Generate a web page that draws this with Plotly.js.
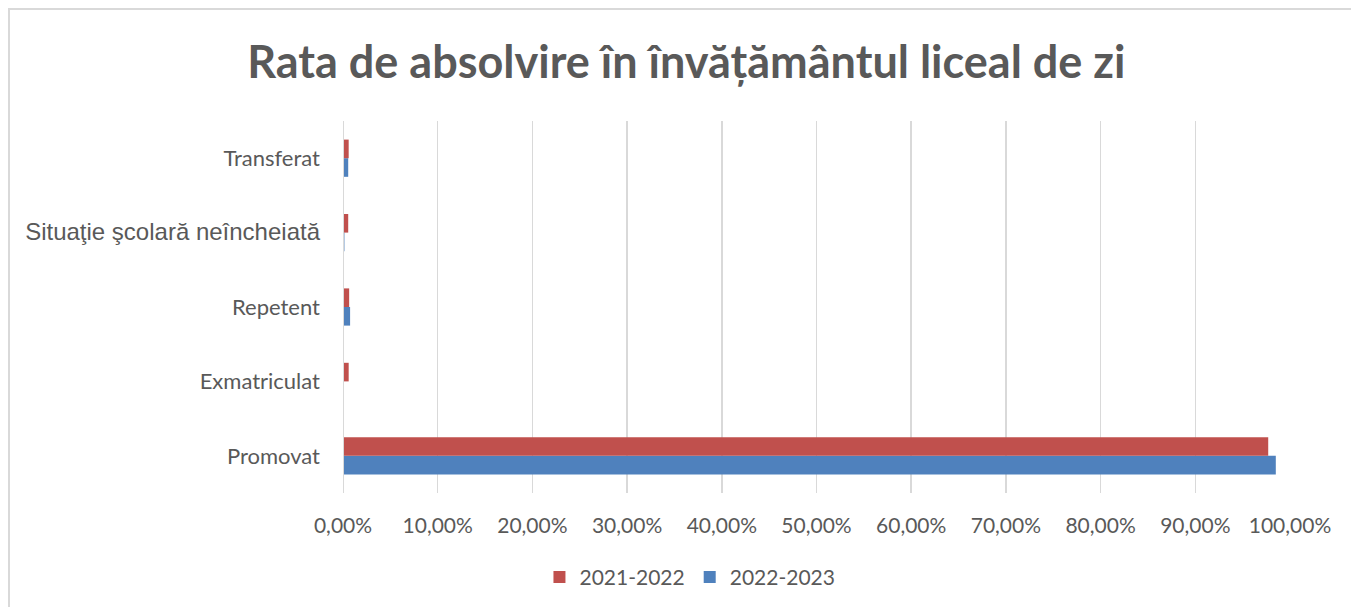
<!DOCTYPE html>
<html>
<head>
<meta charset="utf-8">
<script src="https://cdn.plot.ly/plotly-3.0.1.min.js"></script>
<style>
html,body{margin:0;padding:0;background:#fff;}
#wrap{position:relative;width:1351px;height:607px;overflow:hidden;}
#chart{position:absolute;left:0;top:0;width:1351px;height:607px;}
#frame{position:absolute;left:8px;top:8px;width:1400px;height:700px;border-left:2px solid #d9d9d9;border-top:2px solid #d9d9d9;pointer-events:none;}
</style>
</head>
<body>
<div id="wrap">
<div id="chart"></div>
<div id="frame"></div>
</div>
<script>
const categories = ['Promovat', 'Exmatriculat', 'Repetent', 'Situaţie şcolară neîncheiată', 'Transferat'];
const tickLabels = ['Promovat', 'Exmatriculat', 'Repetent', '<span style="font-family:\'Liberation Sans\', Arial, sans-serif;font-size:24px">Situaţie şcolară neîncheiată</span>', 'Transferat'];
const series2021 = [0.977, 0.006, 0.0065, 0.0055, 0.006];
const series2022 = [0.985, 0.0005, 0.0075, 0.0015, 0.0055];
const xTicks = [0, 0.1, 0.2, 0.3, 0.4, 0.5, 0.6, 0.7, 0.8, 0.9, 1.0];

const traces = [
  {type:'bar', orientation:'h', name:'2022-2023', y:categories, x:series2022,
   marker:{color:'#4F81BD'}, hoverinfo:'x+y'},
  {type:'bar', orientation:'h', name:'2021-2022', y:categories, x:series2021,
   marker:{color:'#C0504D'}, hoverinfo:'x+y'}
];

const font = "Lato, 'Open Sans', sans-serif";
const layout = {
  width:1351, height:607,
  margin:{l:343, r:61, t:121, b:114, pad:0, autoexpand:false},
  paper_bgcolor:'#fff', plot_bgcolor:'#fff',
  separators:',.',
  barmode:'group', bargap:0.5, bargroupgap:0,
  title:{text:'<b>Rata de absolvire în învățământul liceal de zi</b>', x:0.508, xanchor:'center',
         yref:'container', y:0.898, yanchor:'middle',
         font:{family:font, size:45, color:'#595959'}},
  xaxis:{range:[0,1], tickvals:xTicks, tickformat:'.2%', showgrid:true, gridcolor:'#d9d9d9', gridwidth:1.5,
         zeroline:false, showline:false, ticks:'', ticklabelstandoff:18,
         tickfont:{family:font, size:21, color:'#595959'}, fixedrange:true, automargin:false},
  yaxis:{type:'category', categoryorder:'array', categoryarray:categories, tickvals:categories, ticktext:tickLabels,
         showgrid:false, zeroline:false, showline:false, ticks:'', ticklabelstandoff:22,
         tickfont:{family:font, size:22, color:'#595959'}, fixedrange:true, automargin:false},
  shapes:[{type:'line', xref:'x', yref:'paper', x0:0, x1:0, y0:0, y1:1, line:{color:'#d9d9d9', width:2}}],
  showlegend:true,
  legend:{orientation:'h', traceorder:'reversed', xref:'container', x:0.5107, xanchor:'center', yref:'container', y:0.049, yanchor:'middle',
          font:{family:font, size:21, color:'#595959'}, itemwidth:30},
};
Plotly.newPlot('chart', traces, layout, {displayModeBar:false, staticPlot:true});
</script>
</body>
</html>
